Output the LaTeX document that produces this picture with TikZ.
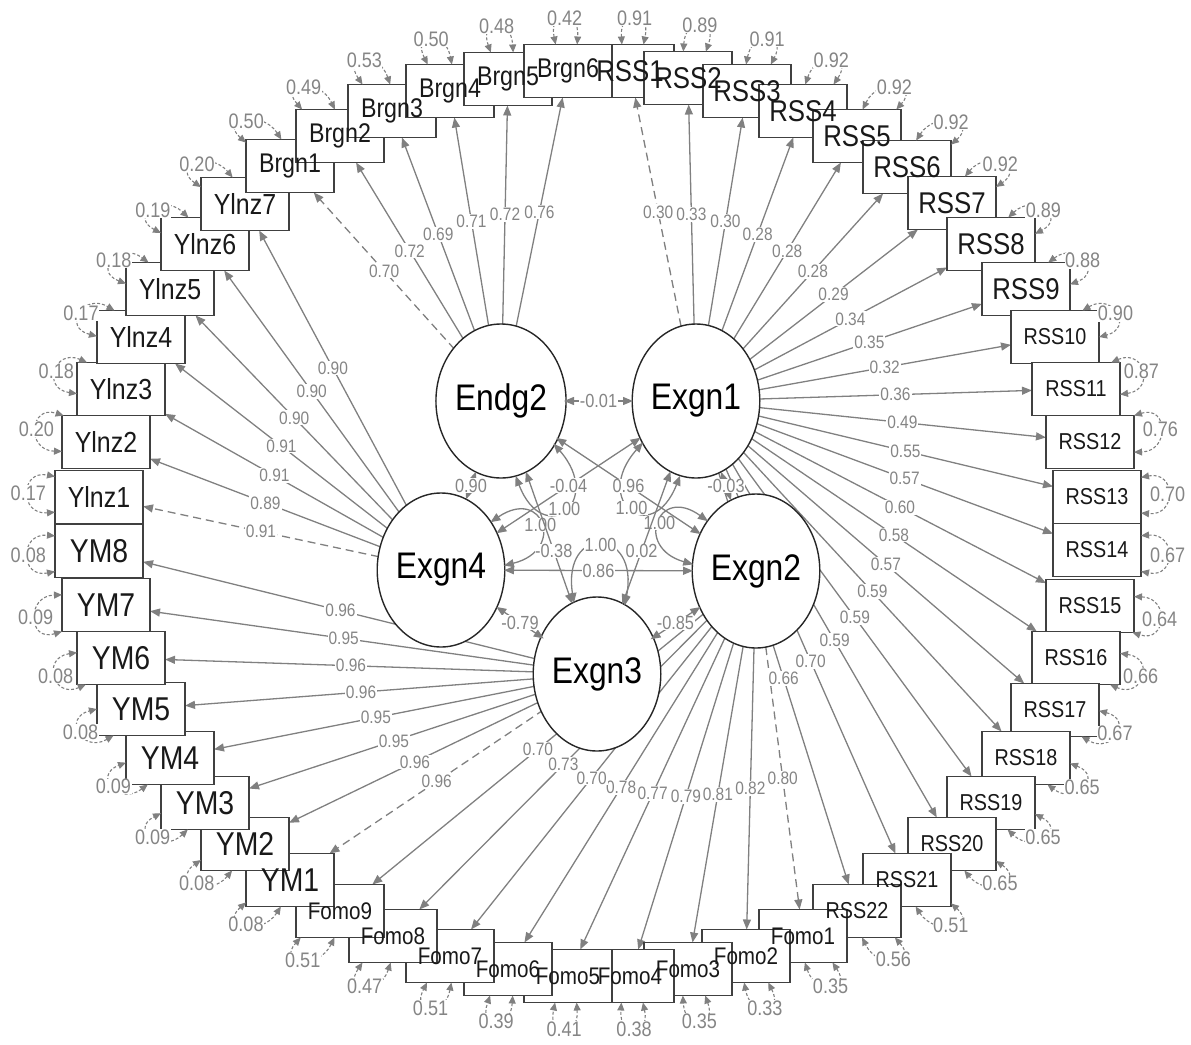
\documentclass[tikz,border=0pt]{standalone}
\usepackage{fontspec}
\setmainfont{Liberation Sans}[FakeStretch=0.86]
\usetikzlibrary{arrows.meta,shapes.geometric}
\definecolor{edgegray}{HTML}{808080}
\definecolor{labgray}{HTML}{858585}
\definecolor{boxedge}{HTML}{404040}
\def\boxlist{RSS1/630/71/30/0.91, RSS2/688/78/30/0.89, RSS3/747/91/30/0.91, RSS4/803/111/30/0.92, RSS5/857/136/30/0.92, RSS6/907/167/30/0.92, RSS7/952/203/30/0.92, RSS8/991/244/30/0.89, RSS9/1026/289/30/0.88, RSS10/1055/337/23/0.90, RSS11/1076/389/23/0.87, RSS12/1090/442/23/0.76, RSS13/1097/497/23/0.70, RSS14/1097/550/23/0.67, RSS15/1090/606/23/0.64, RSS16/1076/658/23/0.66, RSS17/1055/710/23/0.67, RSS18/1026/758/23/0.65, RSS19/991/803/23/0.65, RSS20/952/844/23/0.65, RSS21/907/880/23/0.51, RSS22/857/911/23/0.56, Fomo1/803/936/24/0.35, Fomo2/746/956/24/0.33, Fomo3/688/969/24/0.35, Fomo4/630/976/24/0.38, Fomo5/568/976/24/0.41, Fomo6/508/969/24/0.39, Fomo7/450/956/24/0.51, Fomo8/393/936/24/0.47, Fomo9/340/911/24/0.51, YM1/290/880/33/0.08, YM2/245/844/33/0.08, YM3/205/803/33/0.09, YM4/170/758/33/0.09, YM5/141/709/33/0.08, YM6/121/658/33/0.08, YM7/106/605/33/0.09, YM8/99/551/33/0.08, Ylnz1/99/497/29/0.17, Ylnz2/106/442/29/0.20, Ylnz3/121/389/29/0.18, Ylnz4/141/337/29/0.17, Ylnz5/170/289/29/0.18, Ylnz6/205/244/29/0.19, Ylnz7/245/204/29/0.20, Brgn1/290/166/27/0.50, Brgn2/340/136/27/0.49, Brgn3/392/111/27/0.53, Brgn4/450/91/27/0.50, Brgn5/508/79/27/0.48, Brgn6/568/71/27/0.42}
\def\loadlist{Exgn1/RSS1/0.30/dsh, Exgn1/RSS2/0.33/sol, Exgn1/RSS3/0.30/sol, Exgn1/RSS4/0.28/sol, Exgn1/RSS5/0.28/sol, Exgn1/RSS6/0.28/sol, Exgn1/RSS7/0.29/sol, Exgn1/RSS8/0.34/sol, Exgn1/RSS9/0.35/sol, Exgn1/RSS10/0.32/sol, Exgn1/RSS11/0.36/sol, Exgn1/RSS12/0.49/sol, Exgn1/RSS13/0.55/sol, Exgn1/RSS14/0.57/sol, Exgn1/RSS15/0.60/sol, Exgn1/RSS16/0.58/sol, Exgn1/RSS17/0.57/sol, Exgn1/RSS18/0.59/sol, Exgn1/RSS19/0.59/sol, Exgn1/RSS20/0.59/sol, Exgn1/RSS21/0.70/sol, Exgn1/RSS22/0.66/sol, Exgn2/Fomo1/0.80/dsh, Exgn2/Fomo2/0.82/sol, Exgn2/Fomo3/0.81/sol, Exgn2/Fomo4/0.79/sol, Exgn2/Fomo5/0.77/sol, Exgn2/Fomo6/0.78/sol, Exgn2/Fomo7/0.70/sol, Exgn2/Fomo8/0.73/sol, Exgn2/Fomo9/0.70/sol, Exgn3/YM1/0.96/dsh, Exgn3/YM2/0.96/sol, Exgn3/YM3/0.95/sol, Exgn3/YM4/0.95/sol, Exgn3/YM5/0.96/sol, Exgn3/YM6/0.96/sol, Exgn3/YM7/0.95/sol, Exgn3/YM8/0.96/sol, Exgn4/Ylnz1/0.91/dsh, Exgn4/Ylnz2/0.89/sol, Exgn4/Ylnz3/0.91/sol, Exgn4/Ylnz4/0.91/sol, Exgn4/Ylnz5/0.90/sol, Exgn4/Ylnz6/0.90/sol, Exgn4/Ylnz7/0.90/sol, Endg2/Brgn1/0.70/dsh, Endg2/Brgn2/0.72/sol, Endg2/Brgn3/0.69/sol, Endg2/Brgn4/0.71/sol, Endg2/Brgn5/0.72/sol, Endg2/Brgn6/0.76/sol}
\begin{document}
\begin{tikzpicture}[x=1pt,y=1pt,
  boxshape/.style={rectangle,minimum width=88pt,minimum height=53pt,inner sep=0pt,outer sep=0pt},
  box/.style={boxshape,draw=boxedge,line width=1.9pt,fill=white},
  latshape/.style={ellipse,minimum width=126pt,minimum height=154pt,inner sep=0pt,outer sep=0pt},
  lat/.style={latshape,draw=black!85,line width=1.4pt,fill=white,font=\fontsize{37}{40}\selectfont},
  load/.style={draw=edgegray,line width=1.3pt,arrows={-Triangle[length=10pt,width=8pt]}},
  dsh/.style={dash pattern=on 8pt off 5pt},
  sol/.style={},
  llab/.style={fill=white,inner sep=1pt,text=labgray,font=\fontsize{18}{20}\selectfont},
  res/.style={draw=edgegray,line width=1.1pt,dash pattern=on 3pt off 2pt,arrows={Triangle[length=8pt,width=7pt]-Triangle[length=8pt,width=7pt]}},
  rlab/.style={fill=white,inner sep=0.5pt,text=labgray,font=\fontsize{21}{23}\selectfont},
  cov/.style={draw=edgegray,line width=1.3pt,arrows={Triangle[length=10pt,width=8pt]-Triangle[length=10pt,width=8pt]}},
  clab/.style={fill=white,inner sep=0.5pt,text=labgray,font=\fontsize{19}{21}\selectfont},
  vlab/.style={fill=white,inner sep=0.3pt,text=labgray,font=\fontsize{19}{21}\selectfont}]
\useasboundingbox (0,0) rectangle (1191,-1044);
% placeholders
\foreach \n/\x/\y/\fs/\r in \boxlist {\node[boxshape] (\n) at (\x,-\y) {};}
\node[latshape] (Endg2) at (501,-401) {};
\node[latshape] (Exgn1) at (696,-401) {};
\node[latshape] (Exgn4) at (441,-570) {};
\node[latshape] (Exgn2) at (756,-571) {};
\node[latshape,minimum width=120pt] (Exgn3) at (597,-674) {};
% loadings
\foreach \l/\b/\v/\s in \loadlist {\draw[load,\s] (\l) -- (\b);}
% boxes
\foreach \n/\x/\y/\fs/\r in \boxlist {\node[box] at (\x,-\y) {};}
\foreach \n/\x/\y/\fs/\r in \boxlist {\node[font=\fontsize{\fs}{\fs}\selectfont,text=black!90] at (\x,-\y) {\n};}
% residual variances
\foreach \n/\x/\y/\fs/\r in \boxlist {
  \pgfmathsetmacro\th{atan2(523-\y,\x-598)}
  \pgfmathtruncatemacro\ta{mod(\th+22+720,360)}
  \pgfmathtruncatemacro\tb{mod(\th-22+720,360)}
  \pgfmathsetmacro\ca{\th+8}
  \pgfmathsetmacro\cb{\th-8}
  \draw[res] (\n.\ta) .. controls +(\ca:36) and +(\cb:36) .. node[rlab]{\r} (\n.\tb);
}
% loading labels
\foreach \l/\b/\v/\s in \loadlist {\path (\l) -- node[llab]{\v} (\b);}
% latents
\node[lat] at (Endg2) {Endg2};
\node[lat] at (Exgn1) {Exgn1};
\node[lat] at (Exgn4) {Exgn4};
\node[lat] at (Exgn2) {Exgn2};
\node[lat,minimum width=120pt] at (Exgn3) {Exgn3};
% latent variances
\foreach \l/\p/\d in {Endg2/-58.9/78, Exgn1/-121.5/78, Exgn4/24/64, Exgn2/154/62, Exgn3/88.7/80} {
  \pgfmathtruncatemacro\ta{mod(\p+20+720,360)}
  \pgfmathtruncatemacro\tb{mod(\p-20+720,360)}
  \pgfmathsetmacro\ca{\p+10}
  \pgfmathsetmacro\cb{\p-10}
  \draw[cov] (\l.\ta) .. controls +(\ca:\d) and +(\cb:\d) .. node[vlab]{1.00} (\l.\tb);
}
% covariances
\draw[cov] (Endg2) -- node[clab]{-0.01} (Exgn1);
\draw[cov] (Endg2) -- node[clab]{0.96} (Exgn2);
\draw[cov] (Endg2) -- node[clab,pos=0.6]{-0.38} (Exgn3);
\draw[cov] (Endg2) -- node[clab]{0.90} (Exgn4);
\draw[cov] (Exgn1) -- node[clab]{-0.03} (Exgn2);
\draw[cov] (Exgn1) -- node[clab,pos=0.6]{0.02} (Exgn3);
\draw[cov] (Exgn1) -- node[clab]{-0.04} (Exgn4);
\draw[cov] (Exgn2) -- node[clab]{-0.85} (Exgn3);
\draw[cov] (Exgn4) -- node[clab]{0.86} (Exgn2);
\draw[cov] (Exgn4) -- node[clab]{-0.79} (Exgn3);
\end{tikzpicture}
\end{document}
